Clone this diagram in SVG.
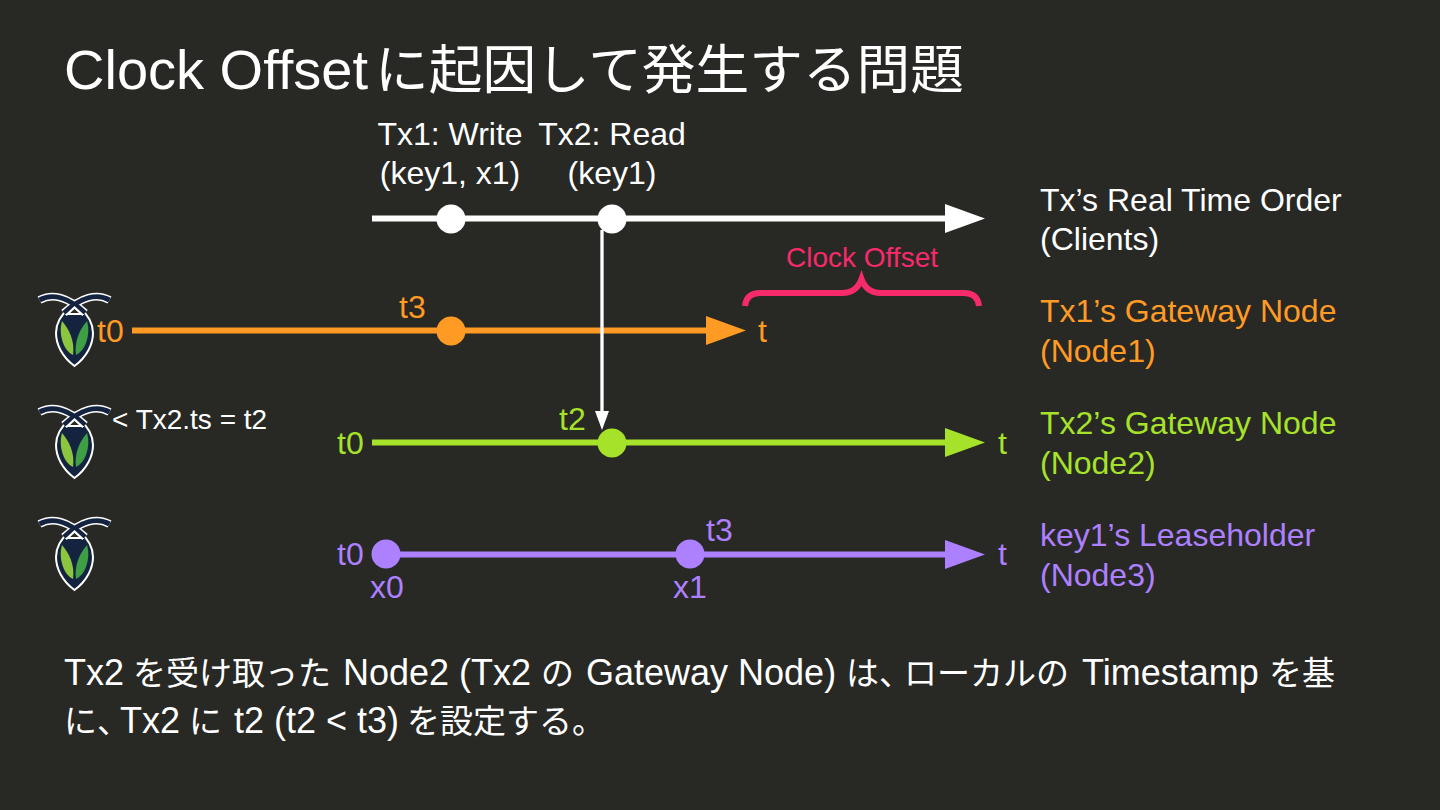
<svg xmlns="http://www.w3.org/2000/svg" width="1440" height="810" viewBox="0 0 1440 810">
<style>
text{font-family:"Liberation Sans","Noto Sans CJK JP",sans-serif;font-size:32px;fill:#fff}
.o{fill:#ff9a24}.g{fill:#a6e22a}.p{fill:#ad80ff}
.c{text-anchor:middle}
.s{font-size:28px}
.b{font-size:36px}
.j{font-size:33px}
.n{font-size:33px;letter-spacing:-16px}
.t{font-size:56px}
.tj{font-size:53.700px}
</style>
<defs>
<g id="logo">
<path d="M36.500 72C24 63 18 50 18 39C18 28 24 20 31 14L36.500 18L42 14C49 20 55 28 55 39C55 50 49 63 36.500 72Z" fill="#14233f" stroke="#fff" stroke-width="2"/>
<path d="M1.500 6C14 -1 30 3 47 19" fill="none" stroke="#fff" stroke-width="8"/>
<path d="M71.500 6C59 -1 43 3 26 19" fill="none" stroke="#fff" stroke-width="8"/>
<path d="M1.500 6C14 -1 30 3 47 19" fill="none" stroke="#14233f" stroke-width="5"/>
<path d="M71.500 6C59 -1 43 3 26 19" fill="none" stroke="#14233f" stroke-width="5"/>
<path d="M29.500 20L36.500 13.500L43.500 20Z" fill="#282824" stroke="#fff" stroke-width="2.200"/>
<path d="M24 27C31 35 37 47 35 61C26 57 20 41 24 27Z" fill="#8cc63f"/>
<path d="M49 27C42 35 36 47 38 61C47 57 53 41 49 27Z" fill="#3f9f45"/>
</g>
<marker id="w" markerUnits="userSpaceOnUse" markerWidth="40" markerHeight="30" refX="4" refY="14.500" orient="auto"><path d="M0 0L40 14.500L0 29Z" fill="#fff"/></marker>
<marker id="mo" markerUnits="userSpaceOnUse" markerWidth="40" markerHeight="30" refX="4" refY="14.500" orient="auto"><path d="M0 0L40 14.500L0 29Z" fill="#ff9a24"/></marker>
<marker id="mg" markerUnits="userSpaceOnUse" markerWidth="40" markerHeight="30" refX="4" refY="14.500" orient="auto"><path d="M0 0L40 14.500L0 29Z" fill="#a6e22a"/></marker>
<marker id="mp" markerUnits="userSpaceOnUse" markerWidth="40" markerHeight="30" refX="4" refY="14.500" orient="auto"><path d="M0 0L40 14.500L0 29Z" fill="#ad80ff"/></marker>
<marker id="ws" markerUnits="userSpaceOnUse" markerWidth="14" markerHeight="19" refX="7" refY="3" orient="0"><path d="M0 0L14 0L7 19Z" fill="#fff"/></marker>
</defs>
<rect width="1440" height="810" fill="#282824"/>
<text x="64" y="89"><tspan class="t">Clock Offset</tspan><tspan class="tj" x="375">に起因して発生する問題</tspan></text>
<g id="connectors" fill="none" stroke-width="6">
<path d="M372 218.500H949" stroke="#fff" marker-end="url(#w)"/>
<path d="M132 330.500H710" stroke="#ff9a24" marker-end="url(#mo)"/>
<path d="M372 442.500H949" stroke="#a6e22a" marker-end="url(#mg)"/>
<path d="M372 554.500H949" stroke="#ad80ff" marker-end="url(#mp)"/>
<path d="M602 230V414" stroke="#fff" stroke-width="3.300" marker-end="url(#ws)"/>
</g>
<g id="tx-clients">
<circle cx="451" cy="219" r="14.500" fill="#fff"/><circle cx="612" cy="219" r="14.500" fill="#fff"/>
<text x="450" y="145" class="c">Tx1: Write</text><text x="450" y="184" class="c">(key1, x1)</text>
<text x="612" y="145" class="c">Tx2: Read</text><text x="612" y="184" class="c">(key1)</text>
<text x="1040" y="211">Tx’s Real Time Order</text><text x="1040" y="250">(Clients)</text>
</g>
<g id="node1">
<use href="#logo" x="38" y="294"/>
<circle cx="451" cy="331" r="14.500" fill="#ff9a24"/>
<text x="97" y="342" class="o">t0</text><text x="399" y="318" class="o">t3</text><text x="758" y="342" class="o">t</text>
<text x="1040" y="322" class="o">Tx1’s Gateway Node</text><text x="1040" y="362" class="o">(Node1)</text>
</g>
<g id="clock-offset">
<path d="M745 306C746 297 751 293 760 293H842C851 293 858 289 861.500 279C865 289 872 293 881 293H964C973 293 978 297 979 306" fill="none" stroke="#f72a6c" stroke-width="6"/>
<text x="862" y="267" class="c" style="fill:#f72a6c;font-size:28px">Clock Offset</text>
</g>
<g id="node2">
<use href="#logo" x="38" y="406"/>
<circle cx="612" cy="443" r="14.500" fill="#a6e22a"/>
<text x="112" y="429" class="s">&lt; Tx2.ts = t2</text>
<text x="337" y="454" class="g">t0</text><text x="559" y="430" class="g">t2</text><text x="998" y="454" class="g">t</text>
<text x="1040" y="434" class="g">Tx2’s Gateway Node</text><text x="1040" y="474" class="g">(Node2)</text>
</g>
<g id="node3">
<use href="#logo" x="38" y="518"/>
<circle cx="386" cy="554" r="14.500" fill="#ad80ff"/><circle cx="690" cy="554" r="14.500" fill="#ad80ff"/>
<text x="337" y="565" class="p">t0</text><text x="706" y="541" class="p">t3</text><text x="998" y="565" class="p">t</text>
<text x="387" y="598" class="c p">x0</text><text x="690" y="598" class="c p">x1</text>
<text x="1040" y="546" class="p">key1’s Leaseholder</text><text x="1040" y="586" class="p">(Node3)</text>
</g>
<text x="64" y="685"><tspan class="b">Tx2</tspan><tspan class="j" x="133">を受け取った</tspan><tspan class="b" x="343">Node2 (Tx2</tspan><tspan class="j" x="541">の</tspan><tspan class="b" x="586">Gateway Node)</tspan><tspan class="j" x="846">は</tspan><tspan class="n">、</tspan><tspan class="j" x="904">ローカルの</tspan><tspan class="b" x="1082">Timestamp</tspan><tspan class="j" x="1269">を基</tspan></text>
<text x="64" y="733"><tspan class="j">に</tspan><tspan class="n">、</tspan><tspan class="b" x="120">Tx2</tspan><tspan class="j" x="189">に</tspan><tspan class="b" x="234">t2 (t2 &lt; t3)</tspan><tspan class="j" x="407">を設定する。</tspan></text>
</svg>
